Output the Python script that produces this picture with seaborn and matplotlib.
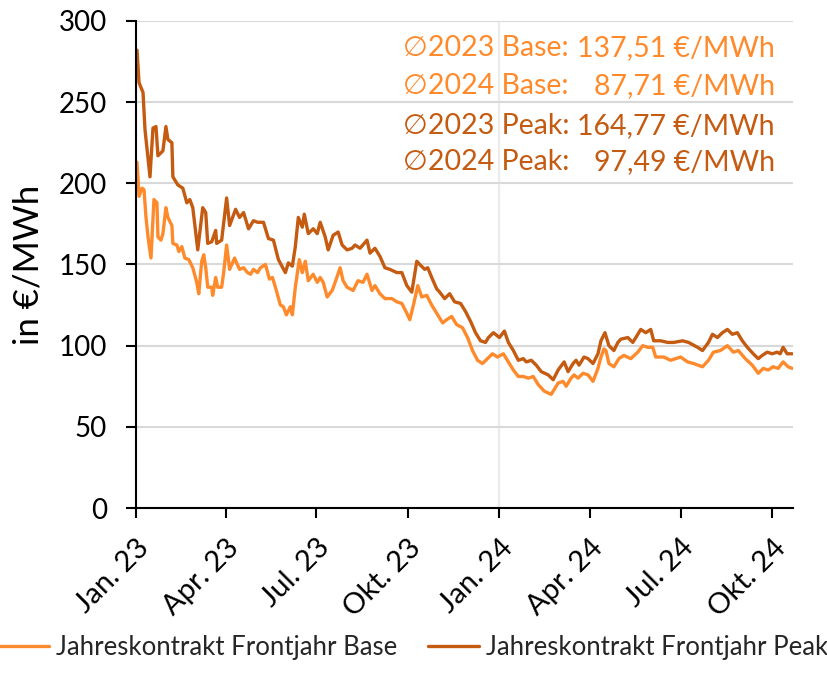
import pandas as pd
import matplotlib.pyplot as plt
from matplotlib.lines import Line2D
import seaborn as sns

# Jahreskontrakt Frontjahr (Cal-Base / Cal-Peak), Werte in EUR/MWh
base_dates = [
    "2023-01-02", "2023-01-04", "2023-01-07", "2023-01-09", "2023-01-11", "2023-01-13",
    "2023-01-16", "2023-01-19", "2023-01-22", "2023-01-23", "2023-01-26", "2023-01-28",
    "2023-01-31", "2023-02-02", "2023-02-06", "2023-02-07", "2023-02-11", "2023-02-13",
    "2023-02-16", "2023-02-19", "2023-02-23", "2023-02-27", "2023-03-03", "2023-03-05",
    "2023-03-08", "2023-03-10", "2023-03-12", "2023-03-14", "2023-03-18", "2023-03-19",
    "2023-03-22", "2023-03-24", "2023-03-28", "2023-03-30", "2023-04-02", "2023-04-05",
    "2023-04-10", "2023-04-12", "2023-04-15", "2023-04-19", "2023-04-23", "2023-04-26",
    "2023-04-29", "2023-05-03", "2023-05-06", "2023-05-11", "2023-05-15", "2023-05-18",
    "2023-05-21", "2023-05-26", "2023-05-29", "2023-06-01", "2023-06-05", "2023-06-07",
    "2023-06-10", "2023-06-14", "2023-06-17", "2023-06-20", "2023-06-23", "2023-06-28",
    "2023-07-02", "2023-07-05", "2023-07-08", "2023-07-12", "2023-07-17", "2023-07-20",
    "2023-07-25", "2023-07-28", "2023-08-01", "2023-08-07", "2023-08-12", "2023-08-17",
    "2023-08-21", "2023-08-26", "2023-08-29", "2023-09-03", "2023-09-08", "2023-09-15",
    "2023-09-20", "2023-09-25", "2023-09-30", "2023-10-03", "2023-10-07", "2023-10-11",
    "2023-10-15", "2023-10-20", "2023-10-25", "2023-10-31", "2023-11-05", "2023-11-09",
    "2023-11-14", "2023-11-19", "2023-11-25", "2023-11-30", "2023-12-05", "2023-12-10",
    "2023-12-15", "2023-12-20", "2023-12-25", "2023-12-30", "2024-01-05", "2024-01-10",
    "2024-01-15", "2024-01-20", "2024-01-25", "2024-01-30", "2024-02-04", "2024-02-09",
    "2024-02-15", "2024-02-22", "2024-02-25", "2024-02-29", "2024-03-05", "2024-03-08",
    "2024-03-13", "2024-03-16", "2024-03-20", "2024-03-25", "2024-03-30", "2024-04-04",
    "2024-04-09", "2024-04-12", "2024-04-15", "2024-04-17", "2024-04-20", "2024-04-25",
    "2024-04-30", "2024-05-05", "2024-05-12", "2024-05-19", "2024-05-24", "2024-05-29",
    "2024-06-03", "2024-06-06", "2024-06-14", "2024-06-21", "2024-07-01", "2024-07-08",
    "2024-07-14", "2024-07-23", "2024-07-29", "2024-08-03", "2024-08-10", "2024-08-17",
    "2024-08-23", "2024-08-28", "2024-09-04", "2024-09-11", "2024-09-17", "2024-09-22",
    "2024-09-27", "2024-10-02", "2024-10-07", "2024-10-12", "2024-10-17", "2024-10-21",
]
base_values = [
    213, 192, 197, 196, 179, 167, 154, 190, 188, 167, 165, 169,
    185, 179, 174, 163, 162, 158, 161, 154, 153, 148, 139, 132,
    152, 156, 148, 136, 136, 131, 142, 136, 136, 145, 162, 147,
    154, 151, 147, 148, 145, 144, 147, 145, 148, 150, 141, 142,
    136, 125, 124, 119, 124, 119, 136, 153, 145, 152, 140, 144,
    139, 142, 139, 130, 134, 139, 148, 140, 136, 134, 140, 139,
    144, 134, 137, 132, 129, 129, 127, 126, 120, 116, 126, 137,
    130, 131, 125, 119, 114, 116, 118, 113, 111, 105, 97, 91,
    89, 92, 95, 93, 95, 90, 85, 81, 81, 80, 81, 76,
    72, 70, 73, 77, 78, 75, 80, 82, 80, 83, 82, 78,
    86, 93, 98, 97, 89, 87, 92, 94, 92, 96, 100, 99,
    99, 93, 93, 91, 93, 90, 89, 87, 91, 96, 97, 100,
    96, 97, 92, 88, 83, 86, 85, 87, 86, 90, 87, 86,
]

peak_dates = [
    "2023-01-02", "2023-01-04", "2023-01-08", "2023-01-10", "2023-01-15", "2023-01-18",
    "2023-01-21", "2023-01-23", "2023-01-28", "2023-01-31", "2023-02-02", "2023-02-06",
    "2023-02-07", "2023-02-12", "2023-02-17", "2023-02-21", "2023-02-24", "2023-02-27",
    "2023-03-04", "2023-03-09", "2023-03-12", "2023-03-14", "2023-03-18", "2023-03-22",
    "2023-03-23", "2023-03-28", "2023-04-02", "2023-04-05", "2023-04-11", "2023-04-15",
    "2023-04-19", "2023-04-24", "2023-04-29", "2023-05-03", "2023-05-06", "2023-05-09",
    "2023-05-14", "2023-05-19", "2023-05-24", "2023-05-31", "2023-06-03", "2023-06-07",
    "2023-06-10", "2023-06-13", "2023-06-17", "2023-06-19", "2023-06-23", "2023-06-28",
    "2023-07-02", "2023-07-05", "2023-07-10", "2023-07-13", "2023-07-18", "2023-07-23",
    "2023-07-27", "2023-08-01", "2023-08-06", "2023-08-09", "2023-08-14", "2023-08-21",
    "2023-08-24", "2023-08-29", "2023-09-03", "2023-09-08", "2023-09-13", "2023-09-20",
    "2023-09-25", "2023-09-30", "2023-10-05", "2023-10-10", "2023-10-13", "2023-10-18",
    "2023-10-21", "2023-10-25", "2023-10-30", "2023-11-02", "2023-11-07", "2023-11-12",
    "2023-11-17", "2023-11-23", "2023-11-28", "2023-12-03", "2023-12-08", "2023-12-13",
    "2023-12-18", "2023-12-21", "2023-12-26", "2024-01-01", "2024-01-06", "2024-01-10",
    "2024-01-15", "2024-01-20", "2024-01-25", "2024-01-28", "2024-02-02", "2024-02-07",
    "2024-02-12", "2024-02-19", "2024-02-24", "2024-02-29", "2024-03-06", "2024-03-10",
    "2024-03-15", "2024-03-18", "2024-03-21", "2024-03-26", "2024-03-30", "2024-04-04",
    "2024-04-09", "2024-04-12", "2024-04-16", "2024-04-20", "2024-04-25", "2024-04-29",
    "2024-05-02", "2024-05-09", "2024-05-14", "2024-05-19", "2024-05-22", "2024-05-27",
    "2024-06-01", "2024-06-04", "2024-06-11", "2024-06-18", "2024-06-24", "2024-07-03",
    "2024-07-09", "2024-07-18", "2024-07-23", "2024-07-29", "2024-08-02", "2024-08-07",
    "2024-08-12", "2024-08-17", "2024-08-22", "2024-08-27", "2024-09-01", "2024-09-06",
    "2024-09-12", "2024-09-17", "2024-09-21", "2024-09-26", "2024-10-01", "2024-10-06",
    "2024-10-09", "2024-10-12", "2024-10-16", "2024-10-21",
]
peak_values = [
    282, 262, 256, 233, 204, 234, 235, 217, 220, 235, 227, 225,
    204, 199, 197, 188, 190, 185, 159, 185, 182, 163, 164, 171,
    163, 165, 191, 174, 184, 179, 182, 172, 177, 176, 176, 176,
    166, 165, 153, 145, 151, 149, 161, 179, 173, 181, 169, 172,
    169, 176, 167, 159, 168, 170, 162, 159, 160, 162, 160, 165,
    157, 160, 155, 148, 147, 145, 145, 137, 133, 152, 150, 147,
    148, 142, 135, 133, 129, 132, 127, 126, 121, 115, 108, 103,
    102, 105, 108, 105, 109, 102, 97, 91, 92, 90, 91, 88,
    84, 82, 79, 85, 90, 84, 89, 91, 88, 93, 92, 89,
    95, 103, 108, 100, 97, 102, 104, 105, 102, 107, 110, 108,
    110, 103, 103, 102, 102, 103, 102, 99, 97, 102, 107, 105,
    108, 110, 107, 108, 103, 99, 95, 92, 94, 96, 95, 96,
    95, 99, 95, 95,
]

year_ticks = ["2023-01-01", "2023-04-01", "2023-07-01", "2023-10-01",
              "2024-01-01", "2024-04-01", "2024-07-01", "2024-10-01"]
year_tick_labels = ["Jan. 23", "Apr. 23", "Jul. 23", "Okt. 23",
                    "Jan. 24", "Apr. 24", "Jul. 24", "Okt. 24"]

avg_labels = ["\u22052023 Base:", "\u22052024 Base:", "\u22052023 Peak:", "\u22052024 Peak:"]
avg_values = ["137,51 €/MWh", "87,71 €/MWh", "164,77 €/MWh", "97,49 €/MWh"]

base_name = "Jahreskontrakt Frontjahr Base"
peak_name = "Jahreskontrakt Frontjahr Peak"

BASE_COLOR = "#FF8A2B"
PEAK_COLOR = "#C55A11"

sns.set_theme(style="white")
plt.rcParams["font.family"] = ["Lato", "DejaVu Sans"]

base_df = pd.DataFrame({"Datum": pd.to_datetime(base_dates), "Preis": base_values})
peak_df = pd.DataFrame({"Datum": pd.to_datetime(peak_dates), "Preis": peak_values})

fig = plt.figure(figsize=(8.27, 6.75), dpi=100)
ax = fig.add_axes([0.1645, 0.2474, 0.7945, 0.7215])

ax.axvline(pd.Timestamp("2024-01-01"), color="#ebebeb", lw=1.6, zorder=0)
sns.lineplot(data=base_df, x="Datum", y="Preis", color=BASE_COLOR, lw=2.4, ax=ax)
sns.lineplot(data=peak_df, x="Datum", y="Preis", color=PEAK_COLOR, lw=2.4, ax=ax)

ax.set_ylim(0, 300)
ax.set_yticks(range(0, 301, 50))
ax.set_xlim(pd.Timestamp("2023-01-01"), pd.Timestamp("2024-10-22"))
ax.set_xticks(pd.to_datetime(year_ticks))
ax.set_xticklabels(year_tick_labels, rotation=45, ha="right", rotation_mode="anchor")
ax.yaxis.grid(True, color="#d9d9d9", lw=1.5)
ax.set_axisbelow(True)

for side in ["top", "right"]:
    ax.spines[side].set_visible(False)
for side in ["left", "bottom"]:
    ax.spines[side].set_color("black")
    ax.spines[side].set_linewidth(1.5)

ax.tick_params(axis="both", which="major", length=7, width=1.5, color="black",
               direction="out", labelcolor="black")
ax.tick_params(axis="x", bottom=True, pad=12, labelsize=21)
ax.tick_params(axis="y", left=True, pad=14, labelsize=20)
ax.set_xlabel("")
ax.set_ylabel("in €/MWh", fontsize=25, color="black", labelpad=10)

# Durchschnittswerte oben rechts
colors = [BASE_COLOR, BASE_COLOR, PEAK_COLOR, PEAK_COLOR]
rows_y = [0.945, 0.866, 0.784, 0.710]
for lab, val, col, yy in zip(avg_labels, avg_values, colors, rows_y):
    ax.text(0.406, yy, lab, transform=ax.transAxes, ha="left", va="center",
            fontsize=20.5, color=col)
    ax.text(0.972, yy, val, transform=ax.transAxes, ha="right", va="center",
            fontsize=20.5, color=col)

handles = [Line2D([0], [0], color=BASE_COLOR, lw=2.4),
           Line2D([0], [0], color=PEAK_COLOR, lw=2.4)]
fig.legend(handles, [base_name, peak_name], loc="lower center",
           bbox_to_anchor=(0.5, 0.0), ncol=2, frameon=False, fontsize=18.5,
           handlelength=1.95, handletextpad=0.3, columnspacing=1.2, borderpad=0.1)

fig.savefig("out.png", dpi=100)
